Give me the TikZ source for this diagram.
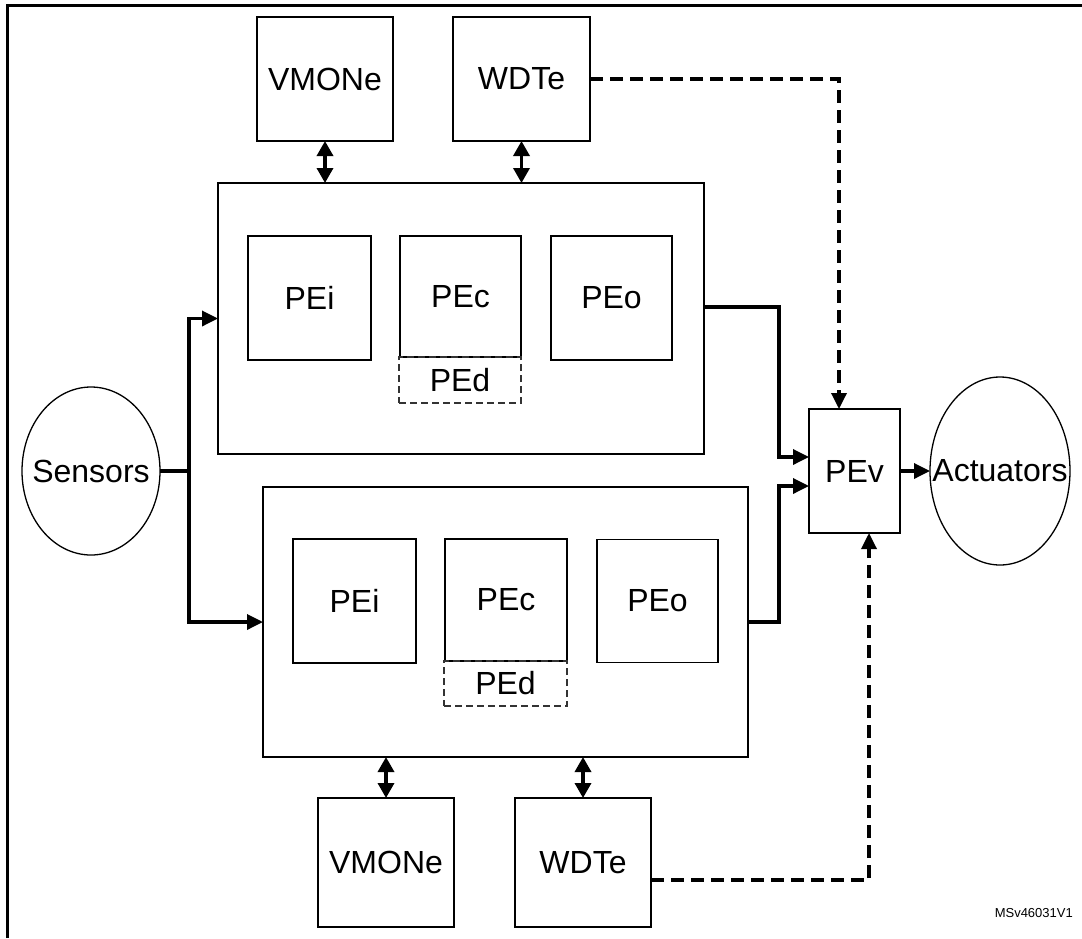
\documentclass[tikz,border=0pt]{standalone}
\usepackage{fontspec}
\setmainfont{Liberation Sans}
\usetikzlibrary{arrows.meta,shapes.geometric}
\begin{document}
\begin{tikzpicture}[x=1pt,y=-1pt,
  box/.style={draw, line width=1.4pt, inner sep=0pt, outer sep=0pt,
              font=\fontsize{32}{36}\selectfont},
  dbox/.style={box, draw=black!80, dash pattern=on 7pt off 4pt, line width=1.3pt},
  oval/.style={draw, ellipse, line width=1.3pt, inner sep=0pt, outer sep=0pt,
               font=\fontsize{32}{36}\selectfont},
  link/.style={line width=3.4pt, line join=miter},
  arr/.style={link, -{Triangle[length=16pt,width=15pt]}},
  dbl/.style={link, {Triangle[length=15pt,width=16pt]}-{Triangle[length=15pt,width=16pt]}},
  dsh/.style={arr, dash pattern=on 13pt off 7pt}
]
\useasboundingbox (0,0) rectangle (1082,938);

% outer frame (top and left edges)
\draw[line width=3pt] (7.5,938) -- (7.5,5.5) -- (1082,5.5);

% upper channel monitors
\node[box, minimum width=136, minimum height=124] (vmt) at (325,79) {VMONe};
\node[box, minimum width=137, minimum height=124] (wdt) at (521.5,79) {WDTe};

% upper channel
\node[box, minimum width=486, minimum height=271] (up) at (461,318.5) {};
\node[box, minimum width=123, minimum height=124] (pei1) at (309.5,298) {PEi};
\node[box, minimum width=121, minimum height=121] (pec1) at (460.5,296.5) {PEc};
\node[dbox, minimum width=122, minimum height=46] (ped1) at (460,380) {PEd};
\node[box, minimum width=121, minimum height=124] (peo1) at (611.5,298) {PEo};

% lower channel
\node[box, minimum width=485, minimum height=270] (lo) at (505.5,622) {};
\node[box, minimum width=123, minimum height=124] (pei2) at (354.5,601) {PEi};
\node[box, minimum width=122, minimum height=122] (pec2) at (506,600) {PEc};
\node[dbox, minimum width=123, minimum height=45] (ped2) at (505.5,683.5) {PEd};
\node[box, minimum width=121, minimum height=123] (peo2) at (657.5,601) {PEo};

% lower channel monitors
\node[box, minimum width=136, minimum height=129] (vmb) at (386,862.5) {VMONe};
\node[box, minimum width=136, minimum height=129] (wdb) at (583,862.5) {WDTe};

% voter, sensors, actuators
\node[box, minimum width=91, minimum height=124] (pev) at (854.5,471) {PEv};
\node[oval, minimum width=138, minimum height=168] (sen) at (91,471) {\makebox[0pt][c]{Sensors}};
\node[oval, minimum width=140, minimum height=188] (act) at (1000,471) {\makebox[0pt][c]{Actuators}};

\node[anchor=base east, inner sep=0pt, font=\fontsize{13}{15}\selectfont] (ref) at (1073,917) {MSv46031V1};

% routing points
\coordinate (split) at (189,471);
\coordinate (uo) at (704,307);
\coordinate (ub) at (779,307);
\coordinate (lb) at (779,622);
\coordinate (pin1) at (809,457);
\coordinate (pin2) at (809,486);
\coordinate (ptop) at (839,409);
\coordinate (db) at (651,880);
\coordinate (pbot) at (869,533);

% sensor fan-out
\draw[link] (sen.east) -- (split);
\draw[arr] (split) |- (up.west);
\draw[arr] (split) |- (lo.west);

% channel outputs to voter
\draw[arr] (uo) -- (ub) |- (pin1);
\draw[arr] (lo.east) -- (lb) |- (pin2);
\draw[arr] (pev.east) -- (act.west);

% monitor links
\draw[dbl] (vmt.south) -- (vmt.south |- up.north);
\draw[dbl] (wdt.south) -- (wdt.south |- up.north);
\draw[dbl] (vmb.north) -- (vmb.north |- lo.south);
\draw[dbl] (wdb.north) -- (wdb.north |- lo.south);

% watchdog lines to voter
\draw[dsh] (wdt.east) -| (ptop);
\draw[dsh] (db) -| (pbot);
\end{tikzpicture}
\end{document}
